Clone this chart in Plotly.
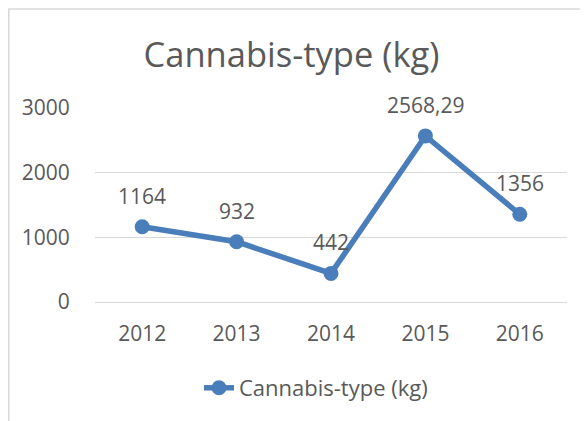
import plotly.graph_objects as go

years = ["2012", "2013", "2014", "2015", "2016"]
values = [1164, 932, 442, 2568.29, 1356]
labels = ["1164", "932", "442", "2568,29", "1356"]
series_name = "Cannabis-type (kg)"
y_ticks = [0, 1000, 2000, 3000]

FONT = "Open Sans"
GRAY = "#595959"
BLUE = "#4A7EBB"

# page has an 8px body margin; figure sized to fit the 588x421 window
OFF = 8
W, H = 588 - OFF, 421 - OFF
L, T = 95 - OFF, 108 - OFF
pw, ph = 472, 194
R, B = W - L - pw, H - T - ph

fig = go.Figure()
fig.add_trace(go.Scatter(
    x=years, y=values, mode="lines+markers", name=series_name,
    line=dict(color=BLUE, width=5.5),
    marker=dict(color=BLUE, size=15),
))

for i, (y, t) in enumerate(zip(values, labels)):
    fig.add_annotation(x=i, y=y, text=t, showarrow=False, yshift=31,
                       font=dict(family=FONT, size=21, color=GRAY))

fig.add_shape(type="rect", xref="paper", yref="paper", layer="below",
              x0=(0.8 - L) / pw, x1=1.2, y0=-1.0, y1=(H - B - 1) / ph,
              line=dict(color="#D9D9D9", width=1.5), fillcolor="rgba(0,0,0,0)")

fig.update_layout(
    width=W, height=H,
    margin=dict(l=L, r=R, t=T, b=B, autoexpand=False),
    paper_bgcolor="white", plot_bgcolor="white",
    title=dict(text="Cannabis-type (kg)", x=(291.5 - OFF) / W, xanchor="center",
               y=(H - (55 - OFF)) / H, yanchor="middle",
               font=dict(family=FONT, size=34.5, color=GRAY)),
    font=dict(family=FONT, size=21, color=GRAY),
    showlegend=True,
    legend=dict(orientation="h", x=(316 - 95) / pw, xanchor="center",
                y=(H - B - (388 - OFF)) / ph, yanchor="middle",
                font=dict(family=FONT, size=22, color=GRAY)),
    xaxis=dict(type="category", range=[-0.5, 4.5], showgrid=False,
               showline=True, linecolor="#D9D9D9", linewidth=1,
               automargin=False,
               ticks="outside", ticklen=13, tickcolor="rgba(0,0,0,0)",
               tickfont=dict(family=FONT, size=21, color=GRAY)),
    yaxis=dict(range=[0, 3000], tickvals=y_ticks, showgrid=True,
               gridcolor="#D9D9D9", gridwidth=1, zeroline=False,
               showline=False, ticks="outside", ticklen=20,
               automargin=False,
               tickcolor="rgba(0,0,0,0)",
               tickfont=dict(family=FONT, size=21, color=GRAY)),
)

fig.write_html("out.html")
